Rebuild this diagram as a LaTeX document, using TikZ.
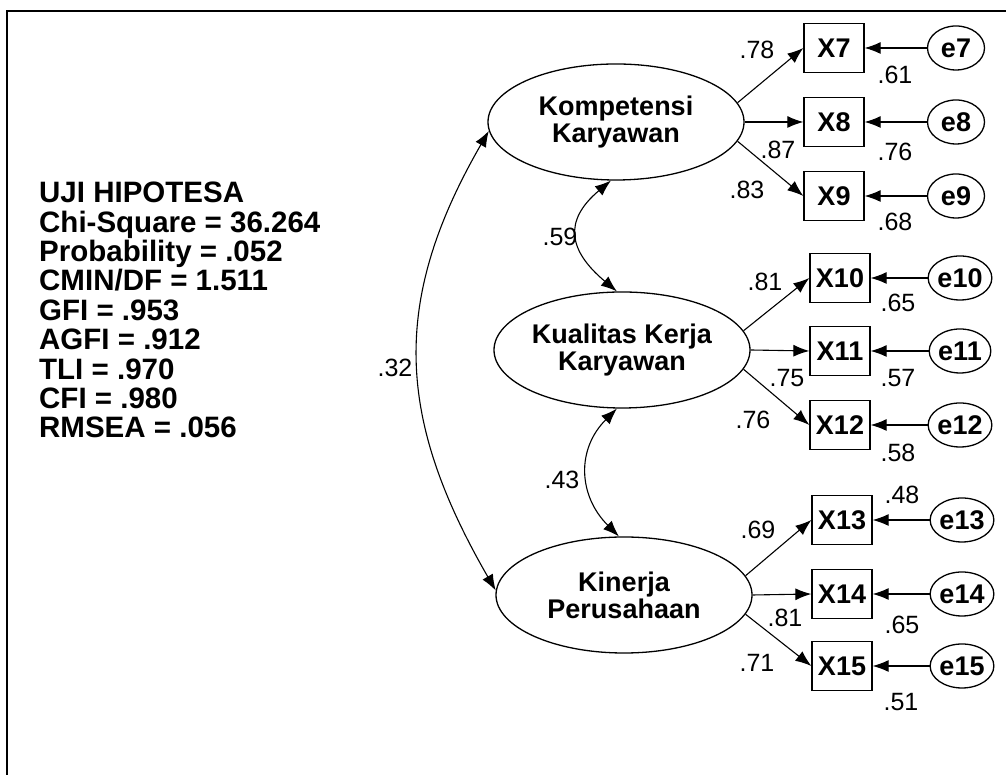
\documentclass[tikz,border=0pt]{standalone}
\usepackage{fontspec}
\setmainfont{Liberation Sans}
\usetikzlibrary{arrows.meta,shapes.geometric}
\tikzset{
  ar/.style={-{Latex[length=16pt,width=12pt]},line width=1.1pt},
  dar/.style={{Latex[length=16pt,width=12pt]}-{Latex[length=16pt,width=12pt]},line width=1.1pt},
  lat/.style={ellipse,draw,line width=1.3pt,minimum width=256pt,minimum height=116pt,inner sep=0pt,align=center,font=\fontsize{27}{27}\selectfont\bfseries},
  obs/.style={rectangle,draw,line width=1.3pt,minimum width=60pt,minimum height=49pt,inner sep=0pt,font=\fontsize{27}{27}\selectfont\bfseries},
  err/.style={ellipse,draw,line width=1.3pt,minimum width=57pt,minimum height=44pt,inner sep=0pt,font=\fontsize{27}{27}\selectfont\bfseries},
  lbl/.style={inner sep=0pt,font=\fontsize{25}{25}\selectfont}
}
\begin{document}
\begin{tikzpicture}[x=1pt,y=1pt]
\useasboundingbox (0,0) rectangle (1006,775);
\draw[line width=2.2pt] (1006,764) -- (7,764) -- (7,0);
\node[inner sep=0pt,anchor=north west,align=left,font=\fontsize{29.5}{29.4}\selectfont\bfseries] (fit) at (39,593)
 {UJI HIPOTESA\\Chi-Square = 36.264\\Probability = .052\\CMIN/DF = 1.511\\GFI = .953\\AGFI = .912\\TLI = .970\\CFI = .980\\RMSEA = .056};
\node[lat] (K1) at (616,653) {Kompetensi\\Karyawan};
\node[lat] (K2) at (622,425) {Kualitas Kerja\\Karyawan};
\node[lat] (K3) at (624,180) {Kinerja\\Perusahaan};
\foreach \n/\x/\y/\ex in {7/834/727/956,8/834/653/956,9/834/579/956,10/840/497/960,11/840/424/960,12/840/350/960,13/842/255/962,14/842/181/962,15/842/109/962}{
 \node[obs] (X\n) at (\x,\y) {X\n};
 \node[err] (e\n) at (\ex,\y) {e\n};
 \draw[ar] (e\n) -- (X\n);}
\foreach \k/\a/\b/\c in {K1/7/8/9,K2/10/11/12,K3/13/14/15}{
 \draw[ar] (\k.9) -- (X\a.west);
 \draw[ar] (\k.east) -- (X\b.west);
 \draw[ar] (\k.-9) -- (X\c.west);}
\draw[dar] (K1.265) to[out=220,in=140,looseness=1.45] (K2.95);
\draw[dar] (K2.265) to[out=225,in=135,looseness=1.15] (K3.95);
\draw[dar] (K1.184) to[out=240,in=120,looseness=1.1] (K3.178);
\foreach \v/\x/\y [count=\i] in {.78/757/725,.87/778/625,.83/747/585,.61/895/700,.76/895/623,.68/895/553,.59/560/538,
 .81/765/493,.65/898/472,.75/787/397,.57/898/397,.76/753/355,.58/898/322,.43/562/295,
 .48/902/280,.69/758/245,.81/785/157,.65/902/150,.71/757/112,.51/901/73,.32/395/407}
 \node[lbl] (w\i) at (\x,\y) {\v};
\end{tikzpicture}
\end{document}
